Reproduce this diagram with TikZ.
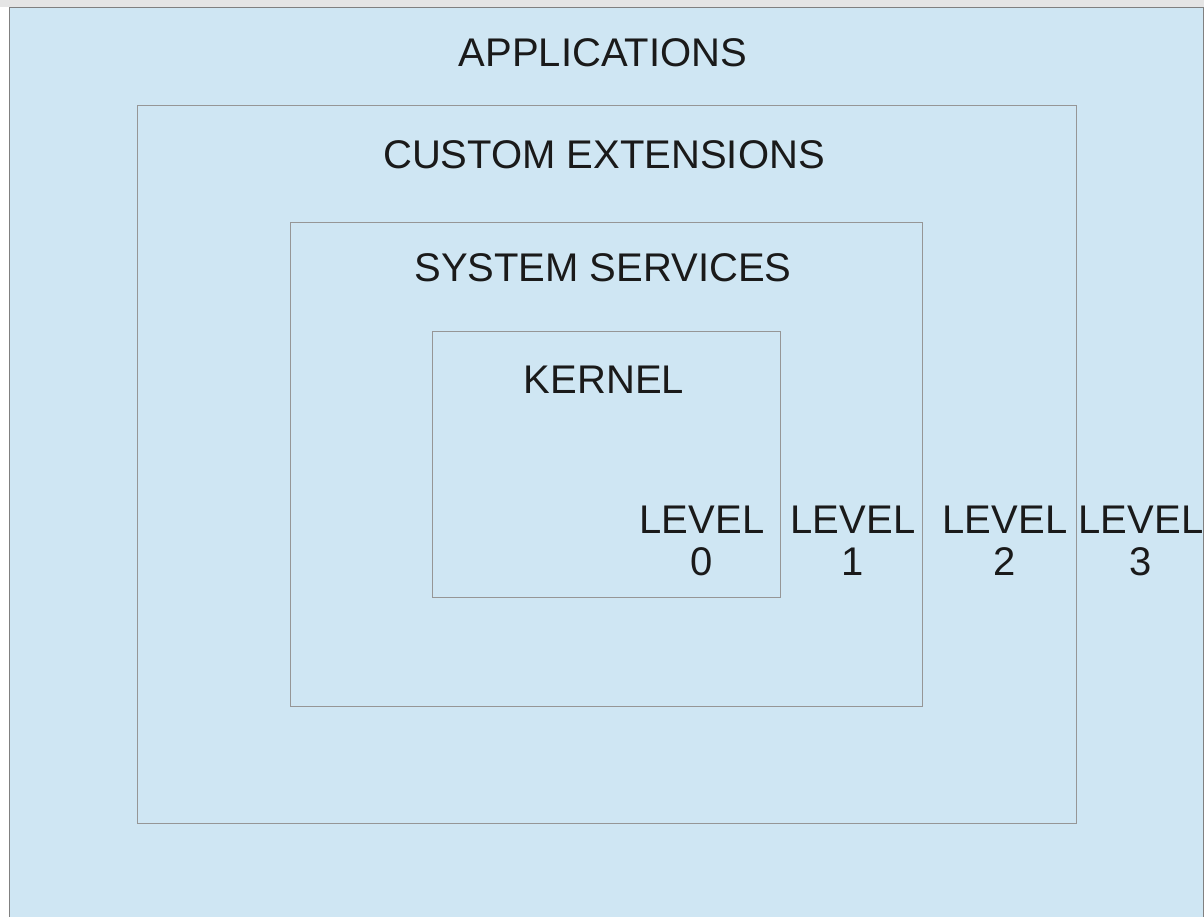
\documentclass[tikz,border=0pt]{standalone}
\usepackage{fontspec}
\setmainfont{Liberation Sans}
\definecolor{layerfill}{RGB}{207,230,243}
\definecolor{outerline}{RGB}{128,128,128}
\definecolor{innerline}{RGB}{150,150,150}
\definecolor{labeltext}{RGB}{26,26,26}
\begin{document}
\begin{tikzpicture}[x=1pt,y=-1pt,
  layer/.style={draw=innerline,line width=1pt},
  title/.style={inner sep=0pt,text=labeltext,font=\fontsize{40}{42}\selectfont},
  levellabel/.style={title,align=center}]
\useasboundingbox (0,0) rectangle (1204,917);
\fill[white] (0,0) rectangle (1204,917);
\fill[black!10] (0,0) rectangle (1204,7);
% nested protection rings
\draw[draw=outerline,line width=1pt,fill=layerfill] (9.5,7.5) rectangle (1203.5,940);
\draw[layer] (137.5,105.5) rectangle (1076.5,823.5);
\draw[layer] (290.5,222.5) rectangle (922.5,706.5);
\draw[layer] (432.5,331.5) rectangle (780.5,597.5);
% ring titles
\node[title] (apps) at (603,53) {APPLICATIONS};
\node[title] (ext) at (604,155) {CUSTOM EXTENSIONS};
\node[title] (svc) at (603,268) {SYSTEM SERVICES};
\node[title] (kern) at (604,380) {KERNEL};
% level numbers
\node[levellabel] (l0) at (702,541) {LEVEL\\0};
\node[levellabel] (l1) at (853,541) {LEVEL\\1};
\node[levellabel] (l2) at (1005,541) {LEVEL\\2};
\node[levellabel] (l3) at (1141,541) {LEVEL\\3};
\end{tikzpicture}
\end{document}
